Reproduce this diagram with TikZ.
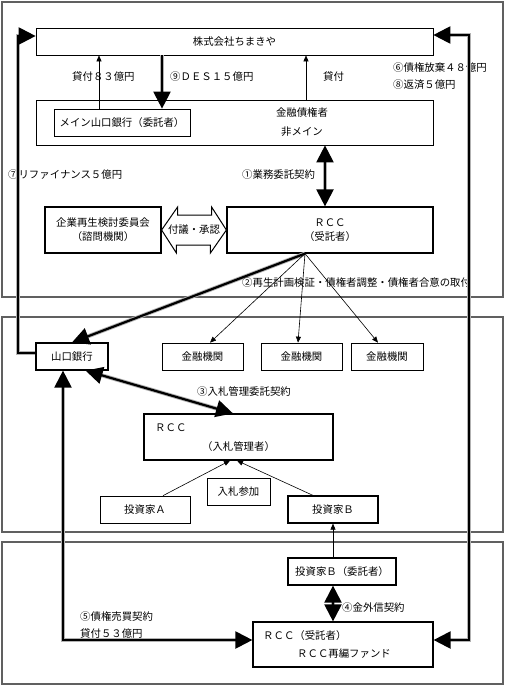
\documentclass[tikz,border=0pt]{standalone}
\usepackage{fontspec}
\setmainfont{Noto Sans CJK JP}
\usetikzlibrary{arrows.meta,calc,positioning}
\newcommand{\boxh}{27}

\tikzset{
  panel/.style={draw=gray!75!black, line width=1.4pt},
  box/.style={draw, line width=0.7pt, minimum height=\boxh, inner sep=0pt},
  boldbox/.style={box, line width=1.2pt},
  lbl/.style={anchor=west, inner sep=0pt},
  thinarr/.style={-{Triangle[length=6pt,width=5pt]}, line width=0.6pt},
  bigarr/.style={-{Triangle[length=17pt,width=17pt]}, line width=2.2pt,
    preaction={draw=gray!60, line width=4pt, -, shorten >=12pt}},
  bigdbl/.style={{Triangle[length=17pt,width=17pt]}-{Triangle[length=17pt,width=17pt]}, line width=2.2pt,
    preaction={draw=gray!60, line width=4pt, -, shorten >=12pt, shorten <=12pt}},
}

\begin{document}
\begin{tikzpicture}[x=1pt,y=-1pt,font=\fontsize{10.4}{12}\selectfont]
\useasboundingbox (0,0) rectangle (505,686);

%% Three panels
\draw[panel] (2,2) rectangle (503,297);
\draw[panel] (2,317) rectangle (503,532);
\draw[panel] (2,542) rectangle (503,684);

%% Company and creditors
\node[box, minimum width=397] (kaisha) at (234.5,41.5) {株式会社ちまきや};
\node[box, minimum width=397, minimum height=45] (saiken) at (234.5,122.5) {};
\node[box, minimum width=136] (mainbank) at (122,122.5) {メイン山口銀行（委託者）};
\node (kinyu) at (302,113) {金融債権者};
\node (himain) at (302,132) {非メイン};

%% Loans up, DES down
\draw[thinarr] ($(mainbank.north)+(-23,0)$) coordinate (kashi1) -- (kashi1 |- kaisha.south);
\node[lbl] (kashi1lbl) at (72,77) {貸付８３億円};
\draw[bigarr] ($(kaisha.south)+(-72.5,0)$) coordinate (des) -- (des |- mainbank.north);
\node[lbl] (deslbl) at (170,77) {⑨ＤＥＳ１５億円};
\draw[thinarr] ($(saiken.north)+(71.5,0)$) coordinate (kashi2) -- (kashi2 |- kaisha.south);
\node[lbl] (kashi2lbl) at (323,77) {貸付};
\node[lbl] (houki) at (393,68) {⑥債権放棄４８億円};
\node[lbl] (hensai) at (393,85) {⑧返済５億円};
\node[lbl] (refi) at (8,175) {⑦リファイナンス５億円};

%% Committee and RCC
\node[boldbox, minimum width=116, minimum height=46, align=center] (iinkai) at (103,230)
  {企業再生検討委員会\\[2pt]（諮問機関）};
\node[boldbox, minimum width=206, minimum height=46, align=center] (rcc1) at (330,230)
  {ＲＣＣ\\[2pt]（受託者）};
\draw[line width=1pt, fill=white] (iinkai.east) -- ++(16,-23) -- ++(0,8) -- ++(34,0) -- ++(0,-8)
  -- (rcc1.west) -- ++(-16,23) -- ++(0,-8) -- ++(-34,0) -- ++(0,8) -- cycle;
\node (fugi) at ($(iinkai.east)!.5!(rcc1.west)$) {付議・承認};

%% Contract 1
\draw[bigdbl] ($(rcc1.north)+(-5,0)$) coordinate (gyomu) -- (gyomu |- saiken.south);
\node[lbl] (gyomulbl) at (242,175) {①業務委託契約};

%% Banks
\node[boldbox, minimum width=72] (yamaguchi) at (72,356.5) {山口銀行};
\node[box, minimum width=81] (kikan1) at (202.5,356.5) {金融機関};
\node[box, minimum width=81] (kikan2) at (301.5,356.5) {金融機関};
\node[box, minimum width=72] (kikan3) at (387,356.5) {金融機関};

%% RCC fans out
\coordinate (fan) at ($(rcc1.south)+(-25,0)$);
\draw[bigarr] (fan) -- (yamaguchi.north);
\draw[thinarr] (fan) -- ($(kikan1.north)+(7.5,0)$);
\draw[thinarr] (fan) -- ($(kikan2.north)+(-3.5,0)$);
\draw[thinarr] (fan) -- ($(kikan3.north)+(-9,0)$);
\node[lbl] (chosei) at (242,283) {②再生計画検証・債権者調整・債権者合意の取付};

%% Bid management
\node[boldbox, minimum width=189, minimum height=46] (rcc2) at (238.5,437) {};
\node[lbl] (rcc2a) at (155,428) {ＲＣＣ};
\node (rcc2b) at (238.5,447) {（入札管理者）};
\draw[bigdbl] ($(yamaguchi.south east)+(-23,0)$) -- ($(rcc2.north)+(-5.5,0)$);
\node[lbl] (nyulbl) at (197,392) {③入札管理委託契約};

%% Investors
\node[box, minimum width=90] (toushiA) at (145,509.5) {投資家Ａ};
\node[box, minimum width=63] (nyusatsu) at (238.5,491.5) {入札参加};
\node[boldbox, minimum width=90] (toushiB) at (333,509.5) {投資家Ｂ};
\draw[thinarr] ($(toushiA.north)+(18,0)$) -- ($(rcc2.south)+(-8.5,0)$);
\draw[thinarr] ($(toushiB.north)+(-20,0)$) -- ($(rcc2.south)+(-1.5,0)$);

%% Fund
\node[boldbox, minimum width=108] (toushiBi) at (342,571.5) {投資家Ｂ（委託者）};
\node[boldbox, minimum width=180, minimum height=45] (fund) at (343,644.5) {};
\node[lbl] (funda) at (263,636) {ＲＣＣ（受託者）};
\node[lbl] (fundb) at (297,654) {ＲＣＣ再編ファンド};
\draw[thinarr] (toushiB.south |- toushiBi.north) -- (toushiB.south);
\draw[bigdbl] (toushiB.south |- toushiBi.south) -- (toushiB.south |- fund.north);
\node[lbl] (kingai) at (342,608) {④金外信契約};
\node[lbl] (baibai) at (80,617) {⑤債権売買契約};
\node[lbl] (kashi3) at (80,634) {貸付５３億円};

%% Long connectors round the panels
\coordinate (lcorner) at (18,36);
\coordinate (rcorner) at (469,640);
\draw[bigarr] ($(yamaguchi.west)+(0,-3.5)$) -| (lcorner) -- ($(kaisha.west)+(0,-5.5)$);
\draw[bigdbl] ($(kaisha.east)+(0,-6.5)$) -| (rcorner) -- ($(fund.east)+(0,-4.5)$);
\draw[bigdbl] ($(yamaguchi.south)+(-9,0)$) |- ($(fund.west)+(0,-4.5)$);

\end{tikzpicture}
\end{document}
